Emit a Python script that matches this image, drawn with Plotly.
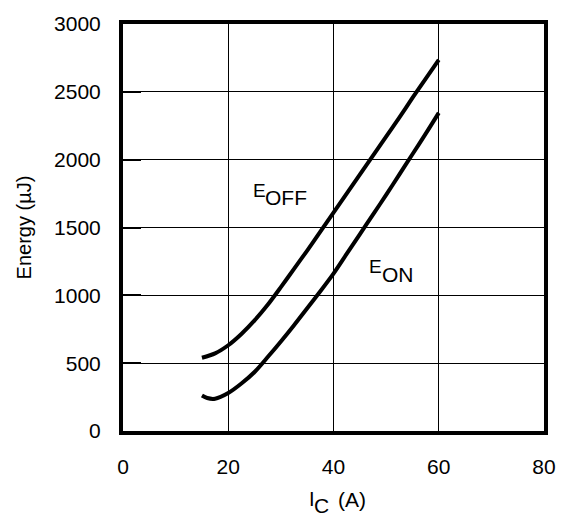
import plotly.graph_objects as go

ic_off = [15, 17.5, 20, 22.5, 25, 27.5, 30, 32.5, 35, 37.5, 40, 42.5, 45, 47.5, 50, 52.5, 55, 57.5, 60]
e_off = [540, 572, 632, 715, 815, 930, 1060, 1195, 1330, 1470, 1610, 1750, 1890, 2030, 2170, 2310, 2455, 2595, 2735]

ic_on = [15, 16, 17.5, 20, 22.5, 25, 27.5, 30, 32.5, 35, 37.5, 40, 42.5, 45, 47.5, 50, 52.5, 55, 57.5, 60]
e_on = [262, 243, 238, 280, 350, 435, 545, 660, 780, 905, 1030, 1160, 1305, 1450, 1595, 1740, 1890, 2040, 2190, 2345]

x_ticks = [0, 20, 40, 60, 80]
y_ticks = [0, 500, 1000, 1500, 2000, 2500, 3000]

FONT = "Arial, 'Liberation Sans', sans-serif"

fig = go.Figure()
fig.add_trace(go.Scatter(x=ic_off, y=e_off, mode="lines",
                         line=dict(color="black", width=4, shape="spline", smoothing=0.8),
                         showlegend=False))
fig.add_trace(go.Scatter(x=ic_on, y=e_on, mode="lines",
                         line=dict(color="black", width=4, shape="spline", smoothing=0.8),
                         showlegend=False))

fig.update_layout(
    width=568, height=518,
    margin=dict(l=123, r=13, t=15, b=87),
    paper_bgcolor="white", plot_bgcolor="white",
    font=dict(family=FONT, size=21, color="black"),
    xaxis=dict(range=[0, 80], tickvals=x_ticks, ticktext=[str(v) for v in x_ticks],
               showgrid=True, gridcolor="black", gridwidth=1.2,
               showline=True, linecolor="black", linewidth=4, mirror=True,
               ticks="", zeroline=False, ticklabelstandoff=14),
    yaxis=dict(range=[0, 3000], tickvals=y_ticks, ticktext=[str(v) for v in y_ticks],
               showgrid=True, gridcolor="black", gridwidth=1.2,
               showline=True, linecolor="black", linewidth=4, mirror=True,
               ticks="inside", ticklen=18, tickwidth=2, tickcolor="black",
               zeroline=False, ticklabelstandoff=14,
               title=dict(text="Energy (µJ)", font=dict(size=20), standoff=18)),
)

# x-axis title built from parts (main letter, subscript, unit)
fig.add_annotation(x=36.0, y=-0.168, xref="x", yref="paper", text="I", showarrow=False,
                   xanchor="center", yanchor="middle", font=dict(size=20, family=FONT))
fig.add_annotation(x=37.8, y=-0.182, xref="x", yref="paper", text="C", showarrow=False,
                   xanchor="center", yanchor="middle", font=dict(size=21, family=FONT))
fig.add_annotation(x=43.6, y=-0.168, xref="x", yref="paper", text="(A)", showarrow=False,
                   xanchor="center", yanchor="middle", font=dict(size=21, family=FONT))

# curve labels: main letter and subscript as separate texts
fig.add_annotation(x=26.0, y=1770, text="E", showarrow=False, xanchor="center", yanchor="middle",
                   font=dict(size=19, family=FONT))
fig.add_annotation(x=30.9, y=1720, text="OFF", showarrow=False, xanchor="center", yanchor="middle",
                   font=dict(size=21, family=FONT))
fig.add_annotation(x=48.0, y=1211, text="E", showarrow=False, xanchor="center", yanchor="middle",
                   font=dict(size=19, family=FONT))
fig.add_annotation(x=52.2, y=1151, text="ON", showarrow=False, xanchor="center", yanchor="middle",
                   font=dict(size=21, family=FONT))

fig.write_html("out.html")
